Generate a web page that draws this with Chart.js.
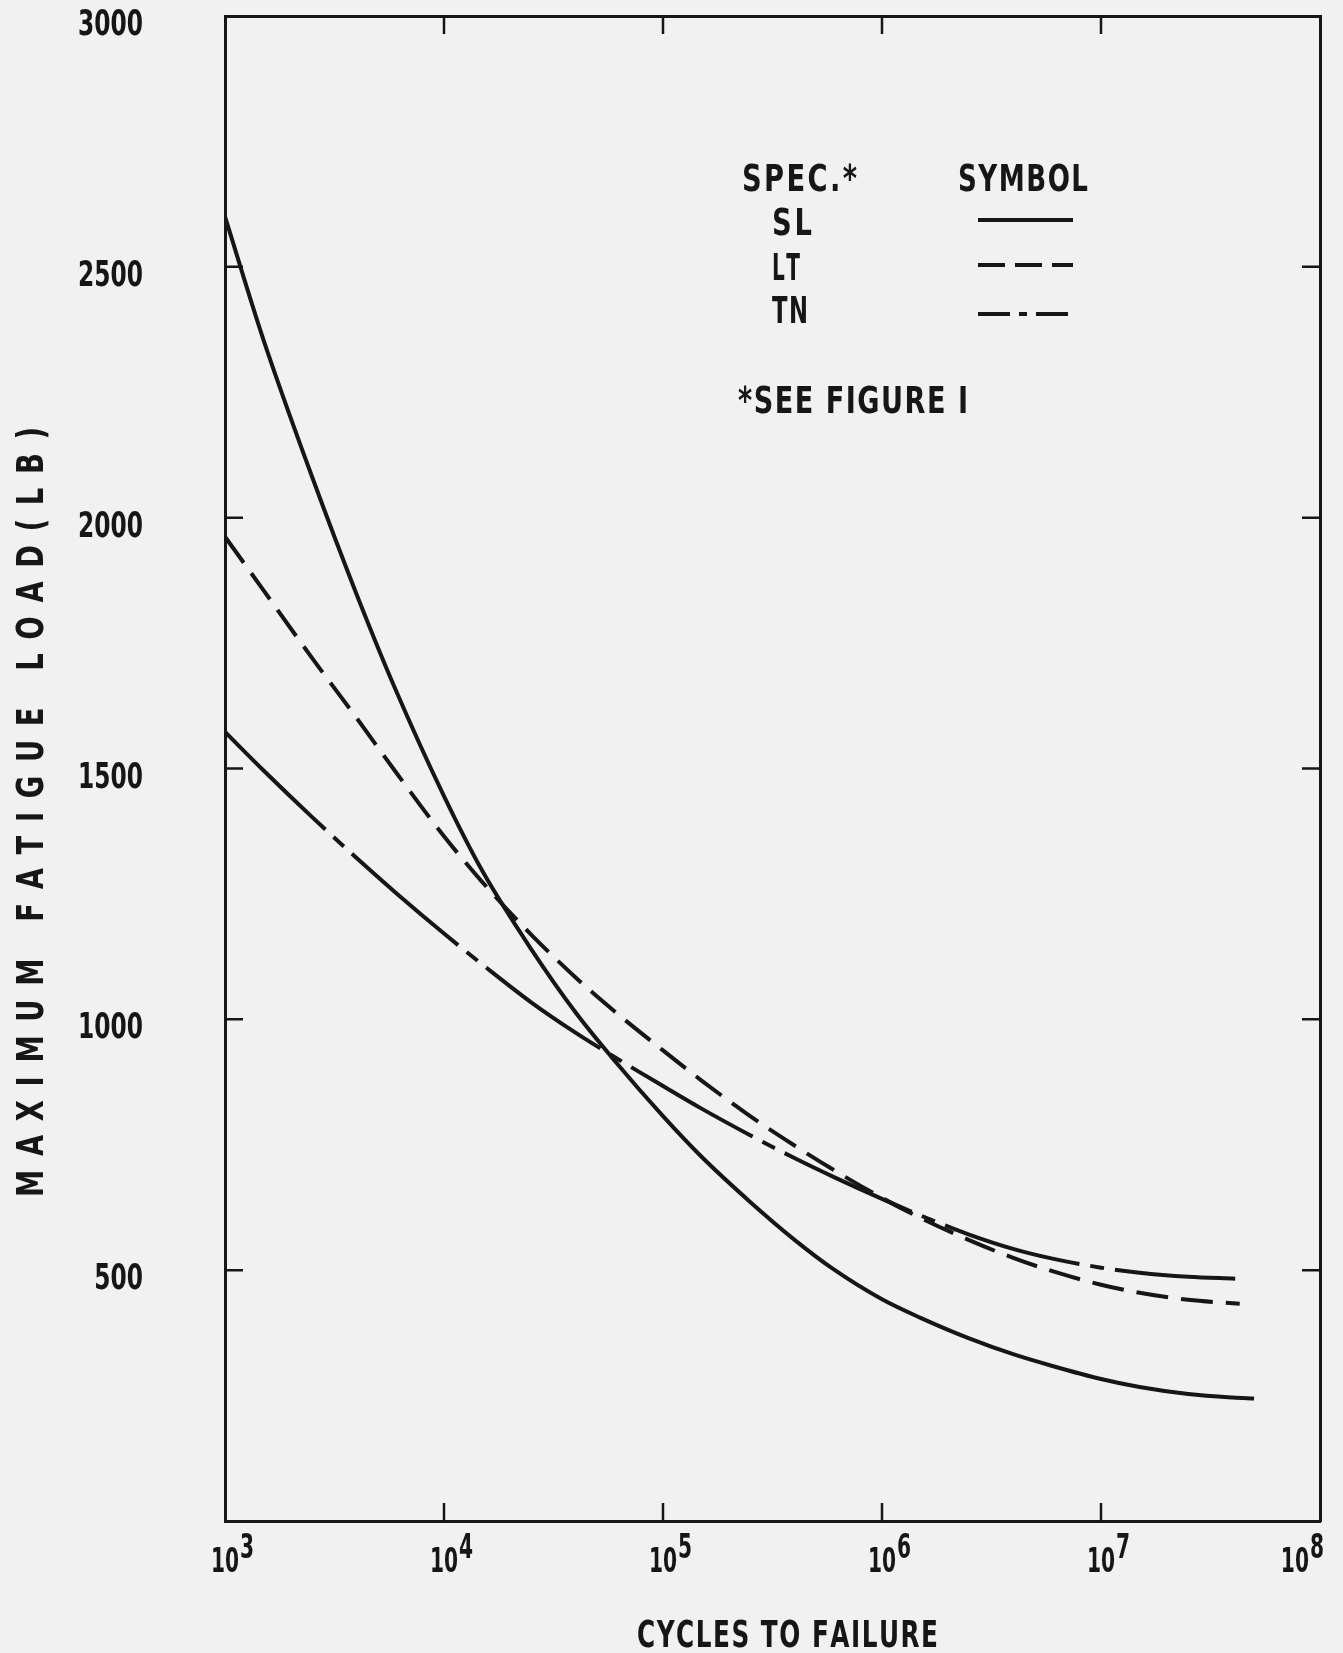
<!doctype html>
<html lang="en">
<head>
<meta charset="utf-8">
<title>Maximum fatigue load vs cycles to failure</title>
<style>
  * { margin: 0; padding: 0; }
  body { background: #f1f1f1; }
  canvas { display: block; }
</style>
</head>
<body>
<canvas id="myChart" width="1343" height="1653"></canvas>
<script src="https://cdn.jsdelivr.net/npm/chart.js/dist/chart.umd.min.js"></script>
<script>
// values: cycles to failure / max load (lb)
const slCycles = [1000, 1500, 2500, 4000, 6000, 10000, 15000, 25000, 40000, 60000, 100000, 150000, 250000, 400000, 600000, 1e6, 1.5e6, 2.5e6, 4e6, 6e6, 1e7, 1.5e7, 2.5e7, 4e7, 5e7];
const slLoad = [2600, 2354, 2081, 1846, 1658, 1445, 1295, 1140, 1013, 918, 807, 726, 636, 560, 502, 442, 405, 364, 332, 309, 283, 267, 253, 246, 244];

const ltCycles = [1000, 1500, 2500, 4000, 6000, 10000, 15000, 25000, 40000, 60000, 100000, 150000, 250000, 400000, 600000, 1e6, 1.5e6, 2.5e6, 4e6, 6e6, 1e7, 1.5e7, 2.5e7, 4.3e7];
const ltLoad = [1962, 1855, 1720, 1600, 1494, 1365, 1273, 1169, 1083, 1016, 938, 878, 807, 748, 700, 644, 604, 560, 524, 498, 471, 455, 441, 433];

const tnCycles = [1000, 1500, 2500, 4000, 6000, 10000, 15000, 25000, 40000, 60000, 100000, 150000, 250000, 400000, 600000, 1e6, 1.5e6, 2.5e6, 4e6, 6e6, 1e7, 1.5e7, 2.5e7, 4.1e7];
const tnLoad = [1573, 1496, 1403, 1321, 1253, 1171, 1109, 1034, 973, 925, 867, 822, 769, 723, 686, 642, 609, 571, 542, 523, 505, 495, 487, 483];

const xTicks = [1e3, 1e4, 1e5, 1e6, 1e7, 1e8];
const yTicks = [500, 1000, 1500, 2000, 2500, 3000];
const specNames = ['SL', 'LT', 'TN'];

const ink = '#161616';
const paper = '#f1f1f1';
const FONT = "'Liberation Sans Narrow', 'DejaVu Sans Condensed', sans-serif";

const makePoints = (xs, ys) => xs.map((v, i) => ({ x: v, y: ys[i] }));

// narrow lettering: draw text squeezed horizontally
function squeezedText(ctx, text, x, y, squeeze, align) {
    const w = ctx.measureText(text).width * squeeze;
    const sx = align === 'right' ? x - w : align === 'center' ? x - w / 2 : x;
    ctx.save();
    ctx.translate(sx, y);
    ctx.scale(squeeze, 1);
    ctx.textAlign = 'left';
    ctx.fillText(text, 0, 0);
    ctx.restore();
    return w;
}

// spread narrow letters evenly over a given width
function spacedText(ctx, text, x, y, width, squeeze) {
    const chars = [...text];
    const widths = chars.map(c => ctx.measureText(c).width * squeeze);
    const sum = widths.reduce((a, b) => a + b, 0);
    const n = chars.length;
    const minGap = 1.5;
    const k = sum + minGap * (n - 1) > width ? (width - minGap * (n - 1)) / sum : 1;
    const gap = n > 1 ? (width - sum * k) / (n - 1) : 0;
    let cx = x;
    chars.forEach((c, i) => {
        ctx.save();
        ctx.translate(cx, y);
        ctx.scale(squeeze * k, 1);
        ctx.textAlign = 'left';
        ctx.fillText(c, 0, 0);
        ctx.restore();
        cx += widths[i] * k + gap;
    });
}

const lineStyle = {
    borderColor: ink,
    borderWidth: 4,
    pointRadius: 0,
    fill: false,
    cubicInterpolationMode: 'monotone',
    borderCapStyle: 'butt'
};

const data = {
    datasets: [
        { ...lineStyle, label: specNames[0], data: makePoints(slCycles, slLoad) },
        { ...lineStyle, label: specNames[1], data: makePoints(ltCycles, ltLoad), borderDash: [32, 13] },
        { ...lineStyle, label: specNames[2], data: makePoints(tnCycles, tnLoad), borderDash: [140, 11, 14, 11] }
    ]
};

const legendDash = [[], [27, 10], [32, 9, 8, 9]];

const paperFigure = {
    id: 'paperFigure',
    beforeDraw(chart) {
        const { ctx, width, height } = chart;
        ctx.save();
        ctx.fillStyle = paper;
        ctx.fillRect(0, 0, width, height);
        ctx.restore();
    },
    afterDraw(chart) {
        const { ctx, chartArea: { top, bottom, left, right }, scales: { x, y } } = chart;
        ctx.save();

        // inward tick marks on all four sides
        ctx.strokeStyle = ink;
        ctx.lineWidth = 2.5;
        ctx.beginPath();
        x.ticks.forEach(t => {
            if (t.value <= x.min || t.value >= x.max) return;
            const px = x.getPixelForValue(t.value);
            ctx.moveTo(px, bottom); ctx.lineTo(px, bottom - 18);
            ctx.moveTo(px, top); ctx.lineTo(px, top + 18);
        });
        y.ticks.forEach(t => {
            if (t.value >= y.max) return;
            const py = y.getPixelForValue(t.value);
            ctx.moveTo(left, py); ctx.lineTo(left + 18, py);
            ctx.moveTo(right, py); ctx.lineTo(right - 18, py);
        });
        ctx.stroke();

        ctx.fillStyle = ink;
        ctx.textBaseline = 'alphabetic';

        // y tick labels
        ctx.font = `bold 36px ${FONT}`;
        y.ticks.forEach(t => {
            const py = y.getPixelForValue(t.value);
            squeezedText(ctx, String(t.value), left - 82, py + 19, 0.72, 'right');
        });

        // x tick labels as 10 with a raised exponent
        ctx.font = `bold 34px ${FONT}`;
        x.ticks.forEach(t => {
            const px = x.getPixelForValue(t.value);
            const exp = String(Math.round(Math.log10(t.value)));
            const sq = 0.66;
            const wb = ctx.measureText('10').width * sq;
            const we = ctx.measureText(exp).width * sq;
            let sx = px - wb / 2;
            if (sx + wb + we > chart.width - 20) sx = chart.width - 20 - wb - we;
            squeezedText(ctx, '10', sx, bottom + 51, sq, 'left');
            squeezedText(ctx, exp, sx + wb + 1, bottom + 37, sq, 'left');
        });

        // axis titles
        ctx.font = `bold 38px ${FONT}`;
        spacedText(ctx, 'CYCLES TO FAILURE', 637, 1647, 301, 0.78);
        ctx.save();
        ctx.translate(29, 812);
        ctx.rotate(-Math.PI / 2);
        spacedText(ctx, 'MAXIMUM FATIGUE LOAD(LB)', -385, 14, 770, 0.8);
        ctx.restore();

        // legend block
        spacedText(ctx, 'SPEC.*', 742, 191, 115, 0.8);
        spacedText(ctx, 'SYMBOL', 958, 191, 130, 0.8);
        const rows = [
            { base: 235, line: 220, w: 40 },
            { base: 280, line: 265, w: 28 },
            { base: 323, line: 314, w: 36 }
        ];
        chart.data.datasets.forEach((ds, i) => {
            const r = rows[i];
            spacedText(ctx, ds.label, 772, r.base, r.w, 0.8);
            ctx.beginPath();
            ctx.lineWidth = 4;
            ctx.setLineDash(legendDash[i]);
            ctx.moveTo(978, r.line);
            ctx.lineTo(1073, r.line);
            ctx.stroke();
        });
        ctx.setLineDash([]);
        spacedText(ctx, '*SEE FIGURE I', 738, 413, 230, 0.8);

        ctx.restore();
    }
};

const noPad = s => { s.paddingTop = 0; s.paddingBottom = 0; s.paddingLeft = 0; s.paddingRight = 0; };

const config = {
    type: 'line',
    data,
    options: {
        responsive: false,
        animation: false,
        devicePixelRatio: 1,
        layout: { padding: 0 },
        plugins: {
            legend: { display: false },
            tooltip: { enabled: false }
        },
        scales: {
            x: {
                type: 'logarithmic',
                position: 'bottom',
                min: 1e3,
                max: 1e8,
                grid: { display: false },
                border: { display: true, color: ink, width: 3 },
                ticks: { display: false },
                afterBuildTicks: s => { s.ticks = xTicks.map(v => ({ value: v })); },
                afterFit: s => { s.height = 132; noPad(s); }
            },
            y: {
                type: 'linear',
                position: 'left',
                min: 0,
                max: 3000,
                grid: { display: false, drawTicks: false },
                border: { display: true, color: ink, width: 3 },
                ticks: { display: false },
                afterBuildTicks: s => { s.ticks = yTicks.map(v => ({ value: v })); },
                afterFit: s => { s.width = 225; noPad(s); }
            },
            xTop: {
                type: 'linear',
                position: 'top',
                min: 0,
                max: 1,
                grid: { display: false },
                border: { display: true, color: ink, width: 3 },
                ticks: { display: false },
                afterFit: s => { s.height = 16; noPad(s); }
            },
            yRight: {
                type: 'linear',
                position: 'right',
                min: 0,
                max: 1,
                grid: { display: false },
                border: { display: true, color: ink, width: 3 },
                ticks: { display: false },
                afterFit: s => { s.width = 23; noPad(s); }
            }
        }
    },
    plugins: [paperFigure]
};

const myChart = new Chart(document.getElementById('myChart'), config);
</script>
</body>
</html>
